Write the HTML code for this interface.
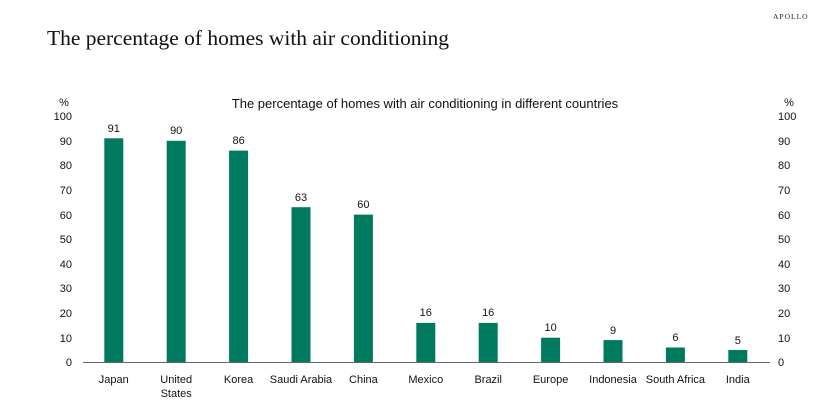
<!DOCTYPE html>
<html><head><meta charset="utf-8"><style>
html,body{margin:0;padding:0;background:#fff;}
svg{display:block;}
</style></head><body>
<svg width="827" height="406" viewBox="0 0 827 406" xmlns="http://www.w3.org/2000/svg">
<text x="773" y="19" font-family="Liberation Serif, serif" font-size="7.5" letter-spacing="1" fill="#222">APOLLO</text>
<text x="47" y="45" font-family="Liberation Serif, serif" font-size="21.5" textLength="402" fill="#111">The percentage of homes with air conditioning</text>
<text x="425" y="108" text-anchor="middle" font-family="Liberation Sans, sans-serif" font-size="13" fill="#111">The percentage of homes with air conditioning in different countries</text>
<g font-family="Liberation Sans, sans-serif" font-size="11" fill="#111">
<text x="64" y="106" text-anchor="middle">%</text>
<text x="789" y="106" text-anchor="middle">%</text>
<g text-anchor="end">
<text x="72" y="120">100</text><text x="72" y="145">90</text><text x="72" y="169">80</text><text x="72" y="194">70</text><text x="72" y="219">60</text><text x="72" y="243">50</text><text x="72" y="268">40</text><text x="72" y="292">30</text><text x="72" y="317">20</text><text x="72" y="342">10</text><text x="72" y="366">0</text>
</g>
<g text-anchor="start">
<text x="778" y="120">100</text><text x="778" y="145">90</text><text x="778" y="169">80</text><text x="778" y="194">70</text><text x="778" y="219">60</text><text x="778" y="243">50</text><text x="778" y="268">40</text><text x="778" y="292">30</text><text x="778" y="317">20</text><text x="778" y="342">10</text><text x="778" y="366">0</text>
</g>
</g>
<g fill="#007a5e">
<rect x="104.3" y="138.3" width="19" height="224"/>
<rect x="166.7" y="140.8" width="19" height="221.5"/>
<rect x="229.1" y="150.6" width="19" height="211.7"/>
<rect x="291.5" y="207.2" width="19" height="155.1"/>
<rect x="353.9" y="214.6" width="19" height="147.7"/>
<rect x="416.3" y="322.9" width="19" height="39.4"/>
<rect x="478.7" y="322.9" width="19" height="39.4"/>
<rect x="541.1" y="337.7" width="19" height="24.6"/>
<rect x="603.5" y="340.1" width="19" height="22.2"/>
<rect x="665.9" y="347.5" width="19" height="14.8"/>
<rect x="728.3" y="350.0" width="19" height="12.3"/>
</g>
<line x1="83" y1="362.5" x2="770" y2="362.5" stroke="#666" stroke-width="1"/>
<g font-family="Liberation Sans, sans-serif" font-size="11" fill="#111" text-anchor="middle">
<text x="113.8" y="132">91</text><text x="176.2" y="134">90</text><text x="238.6" y="144">86</text><text x="301" y="201">63</text><text x="363.4" y="208">60</text><text x="425.8" y="316">16</text><text x="488.2" y="316">16</text><text x="550.6" y="331">10</text><text x="613" y="334">9</text><text x="675.4" y="341">6</text><text x="737.8" y="344">5</text>
<text x="113.8" y="383">Japan</text><text x="176.2" y="383">United</text><text x="176.2" y="397">States</text><text x="238.6" y="383">Korea</text><text x="301" y="383">Saudi Arabia</text><text x="363.4" y="383">China</text><text x="425.8" y="383">Mexico</text><text x="488.2" y="383">Brazil</text><text x="550.6" y="383">Europe</text><text x="613" y="383">Indonesia</text><text x="675.4" y="383">South Africa</text><text x="737.8" y="383">India</text>
</g>
</svg>
</body></html>
